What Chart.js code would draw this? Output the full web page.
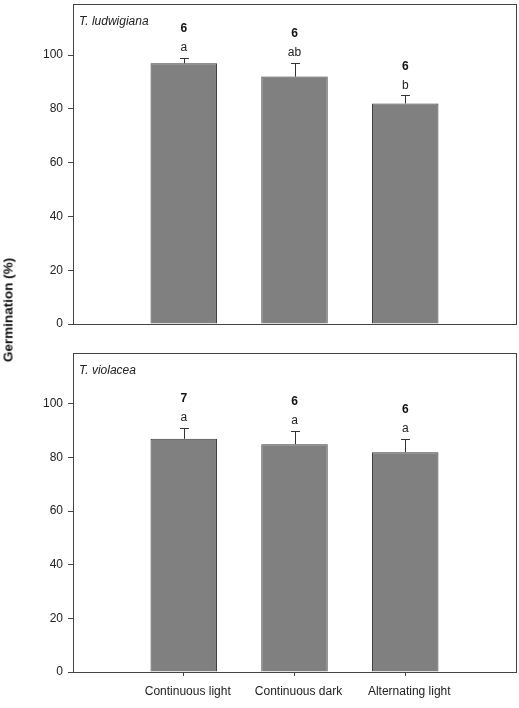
<!DOCTYPE html>
<html>
<head>
<meta charset="utf-8">
<script src="https://cdn.jsdelivr.net/npm/chart.js@4/dist/chart.umd.min.js"></script>
<style>
  html, body { margin: 0; padding: 0; background: #fff; }
  body { width: 519px; height: 708px; position: relative; overflow: hidden; }
  #c1 { position: absolute; left: 0; top: 0; }
  #c2 { position: absolute; left: 0; top: 340px; }
  #ytitle {
    position: absolute; left: 8px; top: 310px;
    transform: translate(-50%, -50%) rotate(-90deg);
    font: bold 13.5px "Liberation Sans", Arial, sans-serif; color: #111; white-space: nowrap;
  }
</style>
</head>
<body>
<canvas id="c1" width="519" height="340" style="width:519px;height:340px"></canvas>
<canvas id="c2" width="519" height="368" style="width:519px;height:368px"></canvas>
<div id="ytitle">Germination (%)</div>
<script>
const categories = ['Continuous light', 'Continuous dark', 'Alternating light'];
const ludwigianaMean = [97, 92, 82];
const ludwigianaErr = [2, 5, 3];
const ludwigianaN = ['6', '6', '6'];
const ludwigianaLetters = ['a', 'ab', 'b'];
const violaceaMean = [87, 85, 82];
const violaceaErr = [4, 5, 5];
const violaceaN = ['7', '6', '6'];
const violaceaLetters = ['a', 'a', 'a'];
const yTickStep = 20;
const yMax = 119;

const FONT = '"Liberation Sans", Arial, sans-serif';
const AXIS = '#444';

const panelPlugin = {
  id: 'panel',
  afterDatasetsDraw(chart) {
    const o = chart.options.plugins.panel;
    const ctx = chart.ctx;
    const a = chart.chartArea;
    const xs = chart.scales.x, ys = chart.scales.y;
    ctx.save();
    o.mean.forEach((m, i) => {
      const px = xs.getPixelForValue(i + 1);
      const pBar = ys.getPixelForValue(m);
      const pTop = ys.getPixelForValue(m + o.err[i]);
      ctx.strokeStyle = '#333';
      ctx.lineWidth = 1;
      ctx.beginPath();
      ctx.moveTo(Math.round(px) + 0.5, pBar);
      ctx.lineTo(Math.round(px) + 0.5, Math.round(pTop) + 0.5);
      ctx.moveTo(Math.round(px) - 4, Math.round(pTop) + 0.5);
      ctx.lineTo(Math.round(px) + 5, Math.round(pTop) + 0.5);
      ctx.stroke();
      ctx.fillStyle = '#222';
      ctx.textAlign = 'center';
      ctx.textBaseline = 'middle';
      ctx.font = '12px ' + FONT;
      ctx.fillText(o.letters[i], px, pTop - 10);
      ctx.fillStyle = '#111';
      ctx.font = 'bold 12px ' + FONT;
      ctx.fillText(o.n[i], px, pTop - 29);
    });
    ctx.strokeStyle = AXIS;
    ctx.lineWidth = 1;
    ctx.strokeRect(Math.round(a.left) + 0.5, Math.round(a.top) + 0.5,
      Math.round(a.right - a.left), Math.round(a.bottom - a.top));
    ctx.fillStyle = '#222';
    ctx.font = 'italic 12px ' + FONT;
    ctx.textAlign = 'left';
    ctx.textBaseline = 'middle';
    ctx.fillText(o.title, a.left + 6, a.top + 18);
    ctx.restore();
  }
};

function makeChart(id, mean, err, n, letters, title, showX, pad) {
  return new Chart(document.getElementById(id), {
    type: 'bar',
    data: {
      datasets: [{
        data: mean.map((v, i) => ({ x: i + 1, y: v })),
        backgroundColor: '#808080',
        borderColor: '#3a3a3a',
        borderWidth: 1,
        barPercentage: 0.6,
        categoryPercentage: 1
      }]
    },
    options: {
      responsive: false,
      animation: false,
      devicePixelRatio: 1,
      layout: { padding: pad },
      plugins: {
        legend: { display: false },
        tooltip: { enabled: false },
        panel: { mean, err, n, letters, title }
      },
      scales: {
        x: {
          type: 'linear',
          min: 0, max: 4,
          offset: false,
          display: showX,
          afterBuildTicks(s) { s.ticks = [1, 2, 3].map(v => ({ value: v })); },
          afterFit(s) { if (showX) { s.height = 36; s.paddingLeft = 0; s.paddingRight = 0; } },
          grid: { offset: false, drawOnChartArea: false, drawTicks: true, tickLength: 4, color: AXIS },
          border: { display: true, color: AXIS },
          ticks: {
            autoSkip: false, maxRotation: 0, padding: 8, labelOffset: 4,
            color: '#222', font: { family: FONT, size: 12 },
            callback: v => categories[v - 1] || ''
          }
        },
        y: {
          min: 0, max: yMax,
          afterFit(s) { s.width = 73; s.paddingTop = 0; s.paddingBottom = 0; },
          grid: { drawOnChartArea: false, tickLength: 5, color: AXIS },
          border: { display: true, color: AXIS },
          ticks: {
            stepSize: yTickStep, includeBounds: false, padding: 5,
            color: '#222', font: { family: FONT, size: 12 }
          }
        }
      }
    },
    plugins: [panelPlugin]
  });
}

makeChart('c1', ludwigianaMean, ludwigianaErr, ludwigianaN, ludwigianaLetters,
  'T. ludwigiana', false, { left: 0, top: 4, right: 3, bottom: 16 });
makeChart('c2', violaceaMean, violaceaErr, violaceaN, violaceaLetters,
  'T. violacea', true, { left: 0, top: 13, right: 3, bottom: 0 });
</script>
</body>
</html>
